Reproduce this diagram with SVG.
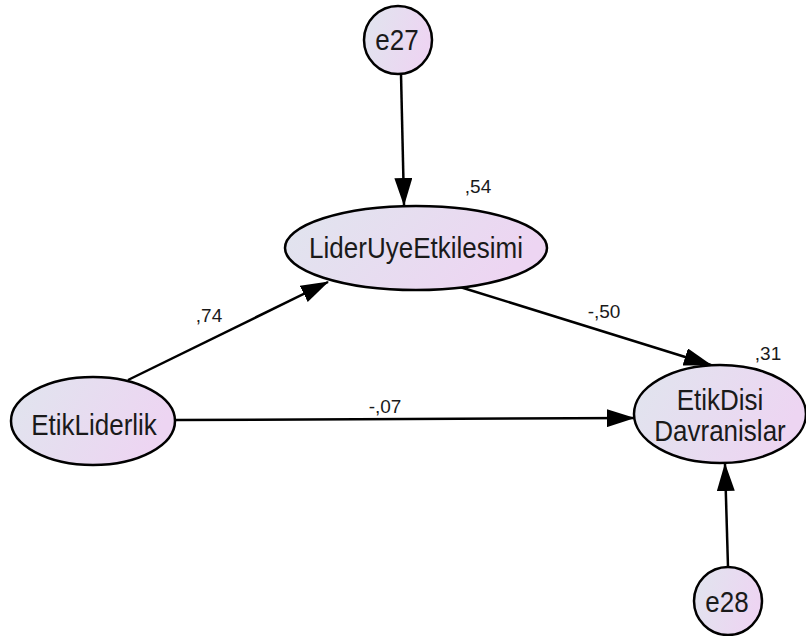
<svg xmlns="http://www.w3.org/2000/svg" width="806" height="636" viewBox="0 0 806 636">
<style>
.node{stroke:#000;stroke-width:2.5;fill:url(#g)}
.t{font-family:"Liberation Sans",Arial,sans-serif;font-size:26px;fill:#1a1a1a;text-anchor:middle}
.l{font-family:"Liberation Sans",Arial,sans-serif;font-size:19px;fill:#1a1a1a;text-anchor:middle}
.c{stroke:#000;stroke-width:2.5;fill:none;marker-end:url(#a)}
</style>
<defs>
<linearGradient id="g" x1="0" y1="0" x2="1" y2="0.3">
<stop offset="0" stop-color="#e0e5ee"/>
<stop offset="1" stop-color="#edd5f2"/>
</linearGradient>
<marker id="a" markerWidth="28" markerHeight="18" refX="27" refY="9" orient="auto" markerUnits="userSpaceOnUse">
<path d="M0,0 L28,9 L0,18 Z" fill="#000"/>
</marker>
</defs>
<rect width="806" height="636" fill="#fff"/>
<g id="connectors">
<line class="c" x1="401" y1="74" x2="404" y2="205"/>
<line class="c" x1="128" y1="380" x2="328" y2="282"/>
<line class="c" x1="460" y1="287" x2="711" y2="365"/>
<line class="c" x1="176" y1="420" x2="634" y2="418"/>
<line class="c" x1="728" y1="567" x2="725" y2="464"/>
</g>
<g id="e27">
<circle class="node" cx="398" cy="40" r="34"/>
<text class="t" transform="translate(397,50) scale(1,1.1)">e27</text>
</g>
<g id="LiderUyeEtkilesimi">
<ellipse class="node" cx="416" cy="248" rx="131" ry="42"/>
<text class="t" transform="translate(416,258) scale(1,1.1)">LiderUyeEtkilesimi</text>
</g>
<g id="EtikLiderlik">
<ellipse class="node" cx="93" cy="421" rx="82" ry="44"/>
<text class="t" transform="translate(94,435) scale(1,1.1)">EtikLiderlik</text>
</g>
<g id="EtikDisiDavranislar">
<ellipse class="node" cx="720" cy="414" rx="86" ry="49"/>
<text class="t" transform="translate(720,410) scale(1,1.1)">EtikDisi</text>
<text class="t" transform="translate(720,441) scale(1,1.1)">Davranislar</text>
</g>
<g id="e28">
<circle class="node" cx="728" cy="601" r="34"/>
<text class="t" transform="translate(727,612) scale(1,1.1)">e28</text>
</g>
<g id="labels">
<text class="l" x="478" y="193">,54</text>
<text class="l" x="209" y="322">,74</text>
<text class="l" x="604" y="318">-,50</text>
<text class="l" x="385" y="413">-,07</text>
<text class="l" x="768" y="360">,31</text>
</g>
</svg>
